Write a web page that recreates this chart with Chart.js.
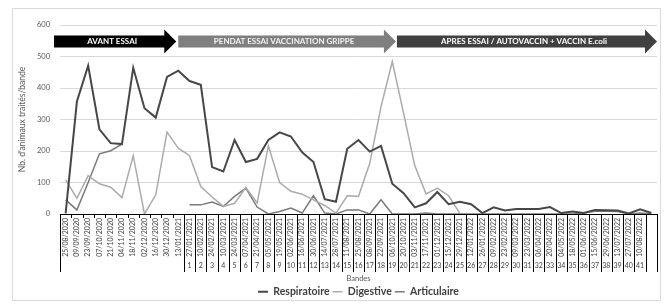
<!DOCTYPE html>
<html>
<head>
<meta charset="utf-8">
<script src="https://cdn.jsdelivr.net/npm/chart.js"></script>
<style>
  html, body { margin: 0; padding: 0; background: #fff; }
  canvas { display: block; }
</style>
</head>
<body>
<canvas id="graphiqueBandes" width="669" height="307"></canvas>
<script>
// ===== Données
const dates = [
  '25/08/2020', '09/09/2020', '23/09/2020', '07/10/2020', '21/10/2020', '04/11/2020',
  '18/11/2020', '02/12/2020', '16/12/2020', '30/12/2020', '13/01/2021',
  '27/01/2021', '10/02/2021', '24/02/2021', '10/03/2021', '24/03/2021', '07/04/2021',
  '21/04/2021', '05/05/2021', '19/05/2021', '02/06/2021', '16/06/2021', '30/06/2021',
  '14/07/2021', '28/07/2021', '11/08/2021', '25/08/2021', '08/09/2021', '22/09/2021',
  '06/10/2021', '20/10/2021', '03/11/2021', '17/11/2021', '01/12/2021', '15/12/2021',
  '29/12/2021', '12/01/2022', '26/01/2022', '09/02/2022', '23/02/2022', '09/03/2022',
  '23/03/2022', '06/04/2022', '20/04/2022', '04/05/2022', '18/05/2022', '01/06/2022',
  '15/06/2022', '29/06/2022', '13/07/2022', '27/07/2022', '10/08/2022', ''
];

const numerosBande = [
  '', '', '', '', '', '', '', '', '', '', '',
  '1', '2', '3', '4', '5', '6', '7', '8', '9', '10',
  '11', '12', '13', '14', '15', '16', '17', '18', '19', '20',
  '21', '22', '23', '24', '25', '26', '27', '28', '29', '30',
  '31', '32', '33', '34', '35', '36', '37', '38', '39', '40',
  '41', ''
];

const respiratoire = [
  2, 357, 471, 269, 225, 222, 464, 336, 306, 435, 455,
  422, 410, 149, 135, 235, 165, 175, 235, 259, 246,
  196, 165, 47, 39, 207, 235, 198, 216, 96, 66,
  21, 34, 70, 31, 39, 31, 3, 21, 11, 16,
  16, 16, 22, 3, 8, 3, 13, 12, 11, 2,
  15, 3
];

const digestive = [
  108, 50, 122, 96, 85, 52, 185, 0, 61, 260, 209,
  185, 87, 54, 24, 34, 84, 35, 216, 100, 72,
  63, 45, 27, 3, 58, 56, 161, 341, 484, 320,
  153, 64, 82, 58, 2, null, null, null, null, null,
  null, null, null, null, null, null, null, null, null, null,
  null, null
];

const articulaire = [
  45, 13, 100, 191, 201, 222, null, null, null, null, null,
  29, 29, 38, 24, 56, 82, 22, 0, 8, 19,
  3, 58, 3, 0, 13, 13, 0, 45, 0, 0,
  0, 3, 0, 0, 0, 0, 0, 0, 0, 0,
  0, 0, 0, 0, 0, 3, 9, 9, 8, 0,
  3, 0
];

const phases = ['AVANT ESSAI', 'PENDAT ESSAI VACCINATION GRIPPE', 'APRES ESSAI / AUTOVACCIN + VACCIN E.coli'];

// ===== Styles
const POLICE = 'Lato, "Open Sans", sans-serif';
const couleurs = {
  resp: '#474747', dig: '#ababab', art: '#7a7a7a',
  grille: '#d9d9d9', texte: '#595959', axe: '#000000', cadre: '#d9d9d9'
};

Chart.defaults.font.family = POLICE;

// Cadre extérieur (comme la zone de graphique Excel)
const cadrePlugin = {
  id: 'cadre',
  beforeDraw(chart) {
    const { ctx, width, height } = chart;
    ctx.save();
    ctx.fillStyle = '#fff';
    ctx.fillRect(0, 0, width, height);
    ctx.strokeStyle = couleurs.cadre;
    ctx.lineWidth = 1;
    ctx.strokeRect(12.5, 8.5, 648, 292);
    ctx.restore();
  }
};

// Axe des catégories à deux niveaux : traits de séparation
const axeMultiPlugin = {
  id: 'axeMulti',
  afterDraw(chart) {
    const { ctx, scales: { x, x2 } } = chart;
    const n = dates.length;
    const px = i => x.getPixelForValue(i);
    const haut = x.top;
    const bas = x2.top + 11;
    ctx.save();
    ctx.strokeStyle = couleurs.axe;
    ctx.lineWidth = 1;
    ctx.beginPath();
    ctx.moveTo(x.left, Math.round(haut) + 0.5);
    ctx.lineTo(x.right, Math.round(haut) + 0.5);
    for (let i = 0; i <= n; i++) {
      let bx = i === 0 ? x.left : i === n ? x.right : (px(i - 1) + px(i)) / 2;
      bx = Math.round(bx) + 0.5;
      const complet = i === 0 || i >= 11;
      ctx.moveTo(bx, haut);
      ctx.lineTo(bx, complet ? bas : haut + 4);
    }
    ctx.stroke();
    ctx.restore();
  }
};

// Flèches des phases de l'essai
const flechesPlugin = {
  id: 'fleches',
  afterDraw(chart) {
    const { ctx, scales: { x, y } } = chart;
    const px = i => x.getPixelForValue(i);
    const bord = i => (px(i - 1) + px(i)) / 2;
    const yc = y.getPixelForValue(548);
    const demiCorps = 6, demiTete = 12, lTete = 12;
    const fleches = [
      { x0: x.left - 6, x1: px(10) - 2, fond: '#000000', encre: '#ffffff' },
      { x0: px(10), x1: bord(30) - 2, fond: '#7f7f7f', encre: '#f2f2f2' },
      { x0: bord(30) - 1, x1: x.right, fond: '#404040', encre: '#ffffff' }
    ];
    ctx.save();
    fleches.forEach((f, k) => {
      ctx.fillStyle = f.fond;
      ctx.beginPath();
      ctx.moveTo(f.x0, yc - demiCorps);
      ctx.lineTo(f.x1 - lTete, yc - demiCorps);
      ctx.lineTo(f.x1 - lTete, yc - demiTete);
      ctx.lineTo(f.x1, yc);
      ctx.lineTo(f.x1 - lTete, yc + demiTete);
      ctx.lineTo(f.x1 - lTete, yc + demiCorps);
      ctx.lineTo(f.x0, yc + demiCorps);
      ctx.closePath();
      ctx.fill();
      ctx.fillStyle = f.encre;
      ctx.font = 'bold 8px ' + POLICE;
      ctx.textAlign = 'center';
      ctx.textBaseline = 'middle';
      ctx.fillText(phases[k], (f.x0 + f.x1) / 2 - 3, yc + 0.5);
    });
    ctx.restore();
  }
};

const ctx = document.getElementById('graphiqueBandes').getContext('2d');

new Chart(ctx, {
  type: 'line',
  data: {
    labels: dates,
    datasets: [
      { label: 'Respiratoire', data: respiratoire, borderColor: couleurs.resp, backgroundColor: couleurs.resp, borderWidth: 2 },
      { label: 'Digestive', data: digestive, borderColor: couleurs.dig, backgroundColor: couleurs.dig, borderWidth: 1.5 },
      { label: 'Articulaire', data: articulaire, borderColor: couleurs.art, backgroundColor: couleurs.art, borderWidth: 1.5 }
    ]
  },
  options: {
    responsive: false,
    animation: false,
    spanGaps: false,
    elements: { point: { radius: 0 }, line: { tension: 0 } },
    layout: { padding: { top: 25, left: 13, right: 12, bottom: 0 } },
    plugins: {
      tooltip: { enabled: false },
      legend: {
        position: 'bottom',
        fullSize: false,
        labels: {
          usePointStyle: true,
          pointStyle: 'line',
          pointStyleWidth: 10,
          boxHeight: 10,
          padding: 3,
          color: '#404040',
          font: { size: 10.5, weight: 'bold', family: POLICE }
        }
      }
    },
    scales: {
      x: {
        type: 'category',
        offset: true,
        grid: { display: false, drawTicks: false },
        border: { display: false },
        ticks: {
          autoSkip: false, minRotation: 90, maxRotation: 90, padding: 4,
          color: '#404040', font: { size: 7 }
        },
        afterFit: s => { s.height = 47; }
      },
      x2: {
        type: 'category',
        position: 'bottom',
        labels: numerosBande,
        offset: true,
        grid: { display: false, drawTicks: false },
        border: { display: false },
        ticks: { autoSkip: false, maxRotation: 0, minRotation: 0, padding: 1, color: '#404040', font: { size: 7 } },
        title: { display: true, text: 'Bandes', color: couleurs.texte, font: { size: 7.5 }, padding: 0 },
        afterFit: s => { s.height = 22.5; }
      },
      y: {
        min: 0, max: 600,
        ticks: { stepSize: 100, color: couleurs.texte, font: { size: 7.5 }, padding: 10 },
        grid: { color: couleurs.grille, drawTicks: false },
        border: { display: false },
        title: {
          display: true, text: "Nb. d'animaux traités/bande", color: couleurs.texte,
          font: { size: 8.5 }, padding: { top: 4, bottom: 0 }
        },
        afterFit: s => { s.width = 47; }
      }
    }
  },
  plugins: [cadrePlugin, axeMultiPlugin, flechesPlugin]
});
</script>
</body>
</html>
